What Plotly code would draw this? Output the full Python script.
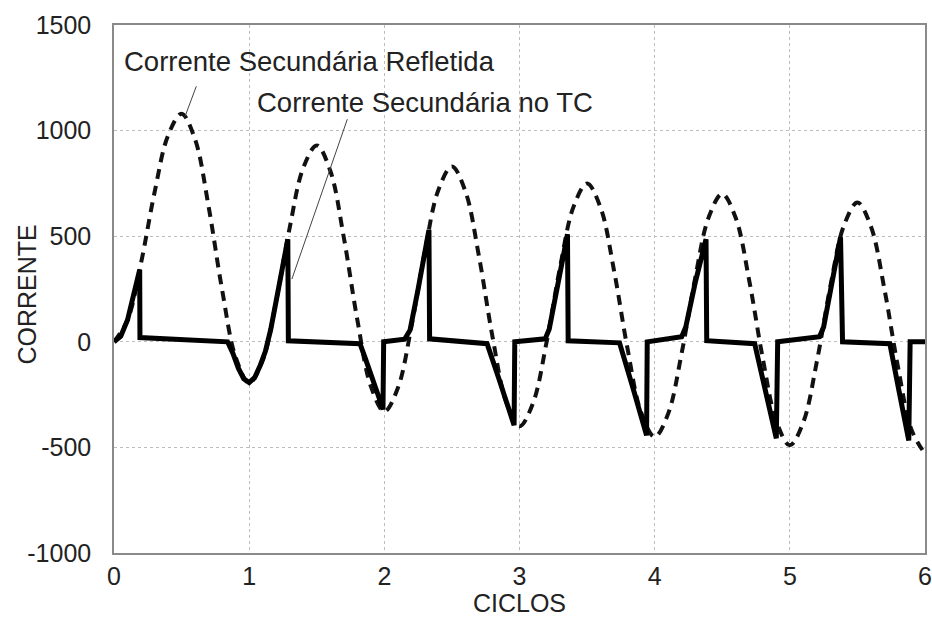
import plotly.graph_objects as go

# Reflected secondary current (dashed), sampled every 0.1 cycle
t_ref = [round(i * 0.1, 1) for i in range(61)]
i_ref = [0, 103, 373, 707, 977, 1080, 958, 640, 246, -73,
         -195, -88, 194, 541, 823, 930, 810, 495, 105, -210,
         -330, -219, 71, 429, 719, 830, 712, 405, 25, -282,
         -400, -290, -3, 353, 640, 750, 635, 335, -35, -335,
         -450, -340, -53, 303, 590, 700, 586, 289, -79, -376,
         -490, -380, -93, 263, 550, 660, 546, 249, -119, -416,
         -530]

# CT secondary current (solid), key points
t_ct = [0, 0.05, 0.1, 0.15, 0.19, 0.192, 0.84,
        0.88, 0.92, 0.96, 1.0, 1.04, 1.08, 1.12, 1.16, 1.2, 1.25, 1.286, 1.29,
        1.82, 1.86, 1.9, 1.95, 1.99, 1.995,
        2.15, 2.19, 2.25, 2.3, 2.33, 2.335,
        2.76, 2.85, 2.96, 2.965,
        3.19, 3.22, 3.29, 3.355, 3.36,
        3.74, 3.84, 3.94, 3.945,
        4.2, 4.23, 4.3, 4.38, 4.385,
        4.74, 4.82, 4.9, 4.91,
        5.22, 5.25, 5.31, 5.375, 5.39,
        5.74, 5.81, 5.88, 5.89, 6.0]
i_ct = [0, 26, 103, 223, 341, 20, 0,
        -55, -125, -175, -193, -170, -115, -45, 60, 194, 367, 486, 5,
        -9, -80, -160, -245, -320, 0,
        12, 55, 250, 429, 530, 14,
        -9, -180, -395, 0,
        14, 60, 290, 509, 5,
        -5, -220, -443, 0,
        24, 70, 280, 486, 5,
        -9, -230, -457, 0,
        24, 70, 280, 495, 0,
        -9, -240, -467, 0, 0]

x_ticks = [0, 1, 2, 3, 4, 5, 6]
y_ticks = [-1000, -500, 0, 500, 1000, 1500]

FONT = "Liberation Sans, Arial, sans-serif"

fig = go.Figure()
fig.add_trace(go.Scatter(x=t_ref, y=i_ref, mode="lines", line_shape="spline",
                         line=dict(color="#111", width=4, dash="10px,7px"),
                         showlegend=False, hoverinfo="skip"))
fig.add_trace(go.Scatter(x=t_ct, y=i_ct, mode="lines",
                         line=dict(color="#000", width=5),
                         showlegend=False, hoverinfo="skip"))

fig.add_annotation(x=0.06, y=1325, xref="x", yref="y", text="Corrente Secundária Refletida",
                   showarrow=False, xanchor="left", yanchor="middle",
                   font=dict(family=FONT, size=27.5, color="#222"))
fig.add_annotation(x=1.04, y=1132, xref="x", yref="y", text="Corrente Secundária no TC",
                   showarrow=False, xanchor="left", yanchor="middle",
                   font=dict(family=FONT, size=27.5, color="#222"))
fig.add_annotation(x=0.525, y=1066, ax=0.613, ay=1217, xref="x", yref="y", axref="x", ayref="y",
                   text="", showarrow=True, arrowhead=0, arrowwidth=1, arrowcolor="#444")
fig.add_annotation(x=1.316, y=297, ax=1.73, ay=1061, xref="x", yref="y", axref="x", ayref="y",
                   text="", showarrow=True, arrowhead=0, arrowwidth=1, arrowcolor="#444")
# y-axis title placed as rotated text
fig.add_annotation(x=-0.107, y=0.49, xref="paper", yref="paper", text="CORRENTE",
                   textangle=-90, showarrow=False, xanchor="center", yanchor="middle",
                   font=dict(family=FONT, size=25, color="#222"))

axis_common = dict(showline=True, mirror=True, linecolor="#8a8a8a", linewidth=1.5,
                   showgrid=True, gridcolor="#bdbdbd", gridwidth=1, griddash="3px,3px",
                   zeroline=False, ticks="", automargin=False, ticklabeloverflow="allow",
                   tickfont=dict(family=FONT, size=25, color="#222"))

fig.update_xaxes(range=[0, 6], tickvals=x_ticks, ticktext=[str(v) for v in x_ticks],
                 title=dict(text="CICLOS", font=dict(family=FONT, size=25, color="#222"), standoff=0),
                 ticklabelstandoff=0, **axis_common)
fig.update_yaxes(range=[-1000, 1500], tickvals=y_ticks, ticktext=[str(v) for v in y_ticks],
                 ticklabelstandoff=16, **axis_common)

fig.update_layout(width=932, height=617, margin=dict(l=114, r=7, t=25, b=64),
                  plot_bgcolor="white", paper_bgcolor="white")

fig.write_html("out.html", config={"displayModeBar": False},
               post_script="document.body.style.margin='0';document.body.style.overflow='hidden';")
